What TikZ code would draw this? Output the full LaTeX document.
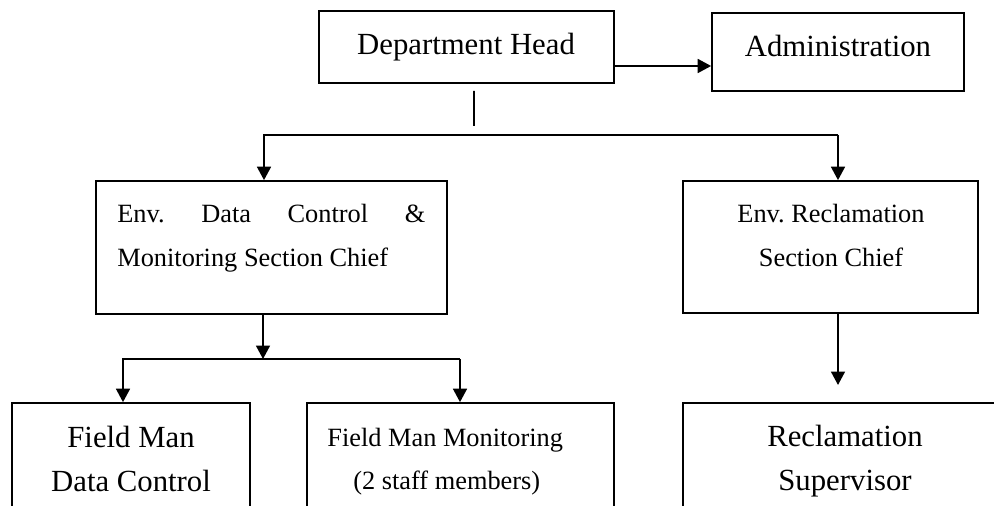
\documentclass[tikz,border=0pt]{standalone}
\usepackage{fontspec}
\setmainfont{Liberation Serif}
\usetikzlibrary{arrows.meta}
\newcommand{\headfont}{\fontsize{17.5}{25.5}\selectfont}
\newcommand{\bodyfont}{\fontsize{15}{25}\selectfont}

\begin{document}
\begin{tikzpicture}[x=0.02cm, y=-0.02cm,
        box/.style={draw, line width=1pt, inner sep=0pt},
        lbl/.style={inner sep=0pt},
        link/.style={line width=1pt},
        arr/.style={line width=1pt, -{Triangle[length=0.27cm, width=0.28cm]}}]
        \clip (0,0) rectangle (994,506);

        % Boxes
        \node[box, minimum width=5.9cm, minimum height=1.44cm] (head) at (466.5,47) {};
        \node[box, minimum width=5.04cm, minimum height=1.56cm] (admin) at (838,52) {};
        \node[box, minimum width=7.02cm, minimum height=2.66cm] (datactl) at (271.5,247.5) {};
        \node[box, minimum width=5.9cm, minimum height=2.64cm] (reclam) at (830.5,247) {};
        \node[box, minimum width=4.76cm, minimum height=2.54cm] (fmdata) at (131,466.5) {};
        \node[box, minimum width=6.14cm, minimum height=2.54cm] (fmmon) at (460.5,466.5) {};
        \node[box, minimum width=6.48cm, minimum height=2.54cm] (recsup) at (845,466.5) {};

        % Texts
        \node[lbl, anchor=base, font=\headfont] (headtxt) at (466,55) {Department Head};
        \node[lbl, anchor=base, font=\headfont] (admintxt) at (838,57) {Administration};
        \node[lbl, anchor=base west, text width=6.16cm, align=justify, font=\bodyfont] (datatxt) at (117,223) {Env.\ Data Control \&\linebreak Monitoring Section Chief};
        \node[lbl, anchor=base, text width=5.9cm, align=flush center, font=\bodyfont] (reclamtxt) at (831,223) {Env.\ Reclamation\\Section Chief};
        \node[lbl, anchor=base, text width=4.76cm, align=flush center, font=\headfont] (fmdatatxt) at (131,447) {Field Man\\Data Control};
        \node[lbl, anchor=base west, text width=6cm, align=flush left, font=\bodyfont] (fmmontxt) at (327,446) {Field Man Monitoring\\\hspace*{0.52cm}(2 staff members)};
        \node[lbl, anchor=base, text width=6cm, align=flush center, font=\headfont] (recsuptxt) at (845,446) {Reclamation\\Supervisor};

        % Links
        \draw[arr] ([yshift=-0.38cm]head.east) -- ([yshift=-0.38cm]head.east -| admin.west);
        \coordinate (split) at (474,126);
        \draw[link] ([xshift=0.15cm, yshift=-0.14cm]head.south) -- (split);
        \coordinate (busL) at (264,135);
        \coordinate (busR) at (838,135);
        \draw[arr] (busR) -- (busL) -- (busL |- datactl.north);
        \draw[arr] (busR) -- (busR |- reclam.north);

        \coordinate (subtop) at (263,359);
        \draw[arr] (datactl.south -| subtop) -- (subtop);
        \coordinate (subL) at (123,359);
        \coordinate (subR) at (460,359);
        \draw[arr] (subR) -- (subL) -- (subL |- fmdata.north);
        \draw[arr] (subR) -- (subR |- fmmon.north);
        \coordinate (rectip) at (838,385);
        \draw[arr] (reclam.south -| rectip) -- (rectip);
    \end{tikzpicture}
\end{document}
